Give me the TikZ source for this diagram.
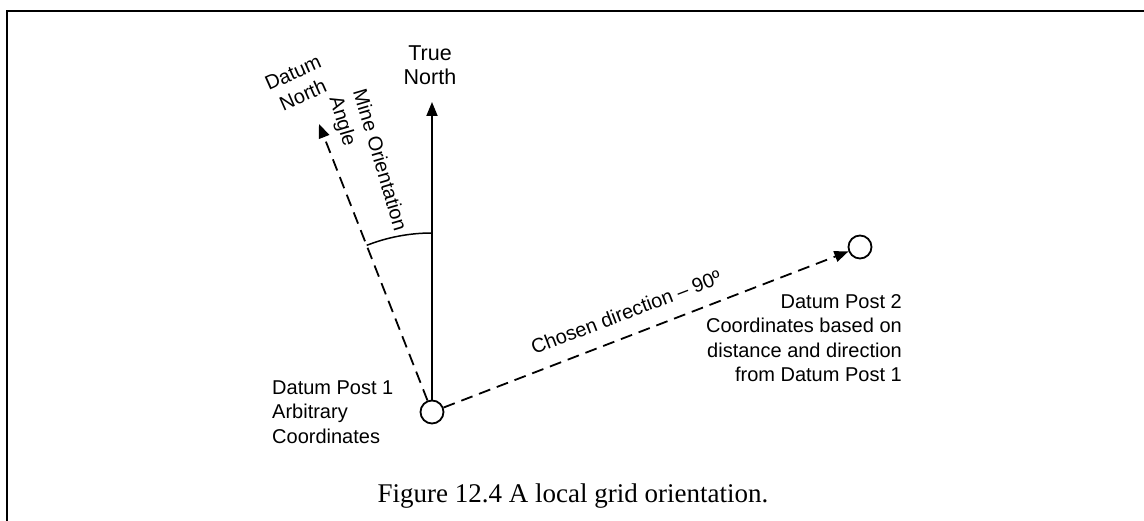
\documentclass[tikz,border=0pt]{standalone}
\usepackage{fontspec}
\setmainfont{Liberation Sans}
\newfontfamily\capfont{Liberation Serif}
\usetikzlibrary{arrows.meta}
\begin{document}
\begin{tikzpicture}[x=1pt,y=1pt,
  lbl/.style={inner sep=0pt,font=\fontsize{20}{24.5}\selectfont},
  post/.style={circle,draw,line width=1.8pt,minimum size=23pt,inner sep=0pt},
  solidarrow/.style={line width=1.8pt,-{Triangle[length=14pt,width=11pt]}},
  dasharrow/.style={line width=1.8pt,dash pattern=on 12pt off 7pt,-{Triangle[length=14pt,width=11pt]}},
  frameline/.style={line width=2.7pt}]
\useasboundingbox (0,0) rectangle (1144,521);
\draw[frameline] (7,0) -- (7,510) -- (1144,510);
% posts
\node[post] (p1) at (432,109) {};
\node[post] (p2) at (860,274) {};
\coordinate (tn) at (432,419);
\coordinate (dn) at (319,397);
% connectors
\draw[solidarrow] (p1) -- (tn);
\draw[dasharrow] (p1) -- (dn);
\draw[dasharrow] (p1) -- (p2);
\draw[line width=1.5pt] ([shift={(90:179)}]p1.center) arc[start angle=90,end angle=111.4,radius=179];
% labels
\node[lbl,align=center,anchor=south,font=\fontsize{21.5}{24.5}\selectfont] (tnl) at (430,436) {True\\North};
\node[lbl,align=center,rotate=24] (dnl) at (298,437) {Datum\\North};
\node[lbl,align=left,rotate=-73.5,anchor=north west] (mol) at (367,434) {Mine Orientation\\Angle};
\node[lbl,rotate=21] (cdl) at (626,209) {Chosen direction -- 90º};
\node[lbl,align=left,anchor=west] (p1l) at (272,109) {Datum Post 1\\Arbitrary\\Coordinates};
\node[lbl,align=right,anchor=east] (p2l) at (902,183) {Datum Post 2\\Coordinates based on\\distance and direction\\from Datum Post 1};
\node[inner sep=0pt,anchor=base,font=\capfont\fontsize{27}{30}\selectfont] (cap) at (573,18) {Figure 12.4 A local grid orientation.};
\end{tikzpicture}
\end{document}
